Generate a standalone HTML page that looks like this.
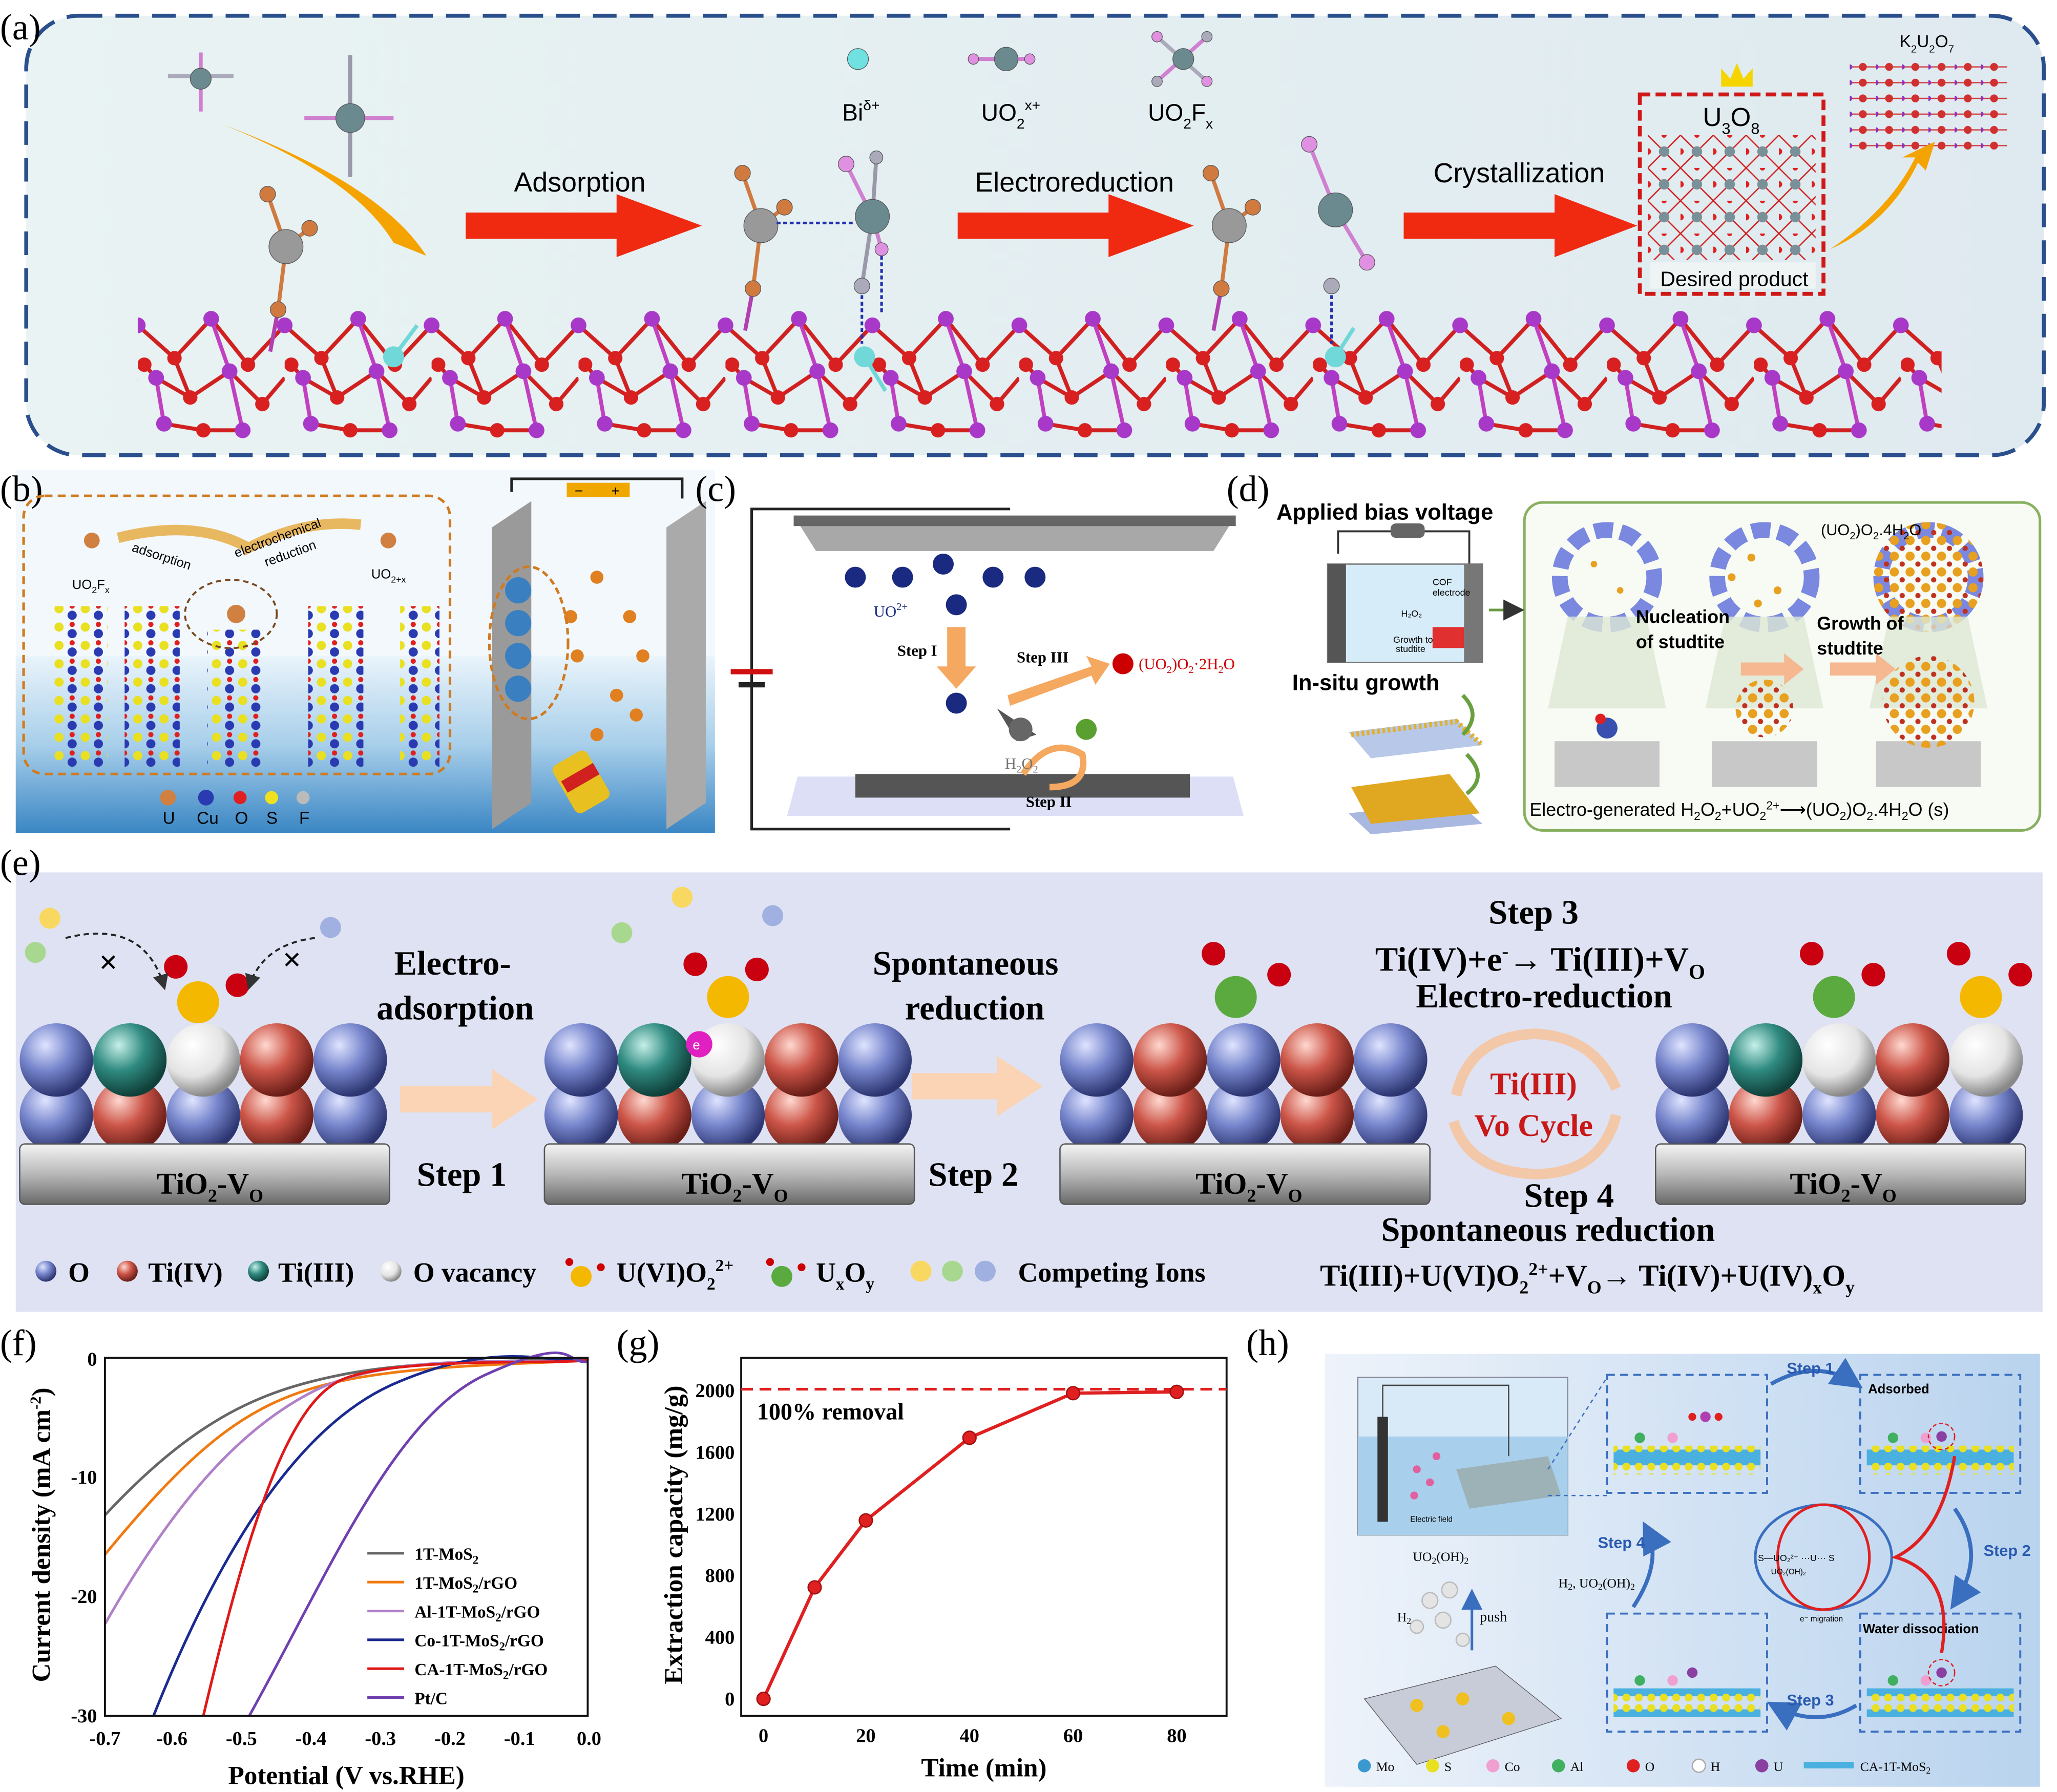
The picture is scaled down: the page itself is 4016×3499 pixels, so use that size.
<!DOCTYPE html>
<html><head><meta charset="utf-8">
<style>
html,body{margin:0;padding:0;background:#fff;}
svg{display:block;}
text{font-family:"Liberation Sans",sans-serif;}
text.s,.s text,.s tspan{font-family:"Liberation Serif",serif;}
</style></head>
<body>
<svg width="4016" height="3499" viewBox="0 0 1568 1366" preserveAspectRatio="none" xmlns="http://www.w3.org/2000/svg">
<defs>
<linearGradient id="bga" x1="0" x2="1"><stop offset="0" stop-color="#e9f3f3"/><stop offset="1" stop-color="#dfeaf0"/></linearGradient>
<linearGradient id="slab" x1="0" y1="0" x2="0" y2="1"><stop offset="0" stop-color="#f4f4f4"/><stop offset="0.5" stop-color="#b8b8b8"/><stop offset="1" stop-color="#6a6a6a"/></linearGradient>
<radialGradient id="gB" cx="0.35" cy="0.3" r="0.7"><stop offset="0" stop-color="#dfe4ff"/><stop offset="0.5" stop-color="#7685cc"/><stop offset="1" stop-color="#2c3570"/></radialGradient>
<radialGradient id="gR" cx="0.35" cy="0.3" r="0.7"><stop offset="0" stop-color="#ffd8d0"/><stop offset="0.5" stop-color="#cc5548"/><stop offset="1" stop-color="#6a1e18"/></radialGradient>
<radialGradient id="gT" cx="0.35" cy="0.3" r="0.7"><stop offset="0" stop-color="#c5f0e8"/><stop offset="0.5" stop-color="#2f8a80"/><stop offset="1" stop-color="#10403a"/></radialGradient>
<radialGradient id="gW" cx="0.35" cy="0.3" r="0.7"><stop offset="0" stop-color="#ffffff"/><stop offset="0.6" stop-color="#e4e4e4"/><stop offset="1" stop-color="#888"/></radialGradient>
<linearGradient id="water" x1="0" y1="0" x2="0" y2="1"><stop offset="0" stop-color="#eaf4fb"/><stop offset="0.5" stop-color="#a8cfea"/><stop offset="1" stop-color="#3a86c4"/></linearGradient>
<linearGradient id="hbg" x1="0" x2="1"><stop offset="0" stop-color="#eef3fa"/><stop offset="1" stop-color="#b9d3ee"/></linearGradient>
<marker id="ah" markerWidth="8" markerHeight="8" refX="6" refY="4" orient="auto"><path d="M0,0 L8,4 L0,8z" fill="#333"/></marker>
<marker id="ahb" markerWidth="8" markerHeight="8" refX="6" refY="4" orient="auto"><path d="M0,0 L8,4 L0,8z" fill="#3a6fc0"/></marker>
<pattern id="chainP" x="105" y="228" width="112" height="110" patternUnits="userSpaceOnUse">
 <g stroke-width="3" fill="none">
 <polyline points="0,20 28,45 56,15 84,50 112,20" stroke="#d02020"/>
 <polyline points="5,50 14,60 40,75 70,55 95,80 112,60" stroke="#d02020"/>
 <polyline points="20,95 50,100 80,100" stroke="#d02020"/>
 <line x1="14" y1="60" x2="20" y2="95" stroke="#c040c0"/>
 <line x1="70" y1="55" x2="80" y2="100" stroke="#c040c0"/>
 <line x1="56" y1="15" x2="70" y2="55" stroke="#c040c0"/>
 <line x1="28" y1="45" x2="40" y2="75" stroke="#d02020"/>
 </g>
 <g fill="#a838c8"><circle cx="0" cy="20" r="6"/><circle cx="112" cy="20" r="6"/><circle cx="56" cy="15" r="6"/><circle cx="14" cy="60" r="6"/><circle cx="70" cy="55" r="6"/><circle cx="20" cy="95" r="6"/><circle cx="80" cy="100" r="6"/></g>
 <g fill="#d82020"><circle cx="28" cy="45" r="5.5"/><circle cx="84" cy="50" r="5.5"/><circle cx="40" cy="75" r="5.5"/><circle cx="95" cy="80" r="5.5"/><circle cx="50" cy="100" r="5.5"/><circle cx="5" cy="50" r="5.5"/></g>
</pattern>
<pattern id="u3P" x="1256" y="103" width="25" height="25" patternUnits="userSpaceOnUse">
 <path d="M0,0 L25,25 M25,0 L0,25" stroke="#d02020" stroke-width="1"/>
 <circle cx="12.5" cy="12.5" r="4" fill="#7a9098"/><circle cx="0" cy="12.5" r="2.5" fill="#e02020"/><circle cx="12.5" cy="0" r="2" fill="#e02020"/>
</pattern>
<pattern id="k2P" x="1410" y="45" width="20" height="12" patternUnits="userSpaceOnUse">
 <line x1="0" y1="6" x2="20" y2="6" stroke="#d04040"/><circle cx="10" cy="6" r="3" fill="#d03030"/><circle cx="0" cy="6" r="2" fill="#9030c0"/>
</pattern>
<pattern id="crP" x="0" y="460" width="20" height="14" patternUnits="userSpaceOnUse">
 <circle cx="5" cy="4" r="3.5" fill="#e8e020"/><circle cx="15" cy="9" r="3.5" fill="#2a3ab0"/><circle cx="15" cy="2" r="2" fill="#e02020"/>
</pattern>
<pattern id="mosP" x="0" y="0" width="9.5" height="22" patternUnits="userSpaceOnUse">
 <rect x="0" y="5" width="9.5" height="12" fill="#4ab0e0"/><circle cx="4.75" cy="4" r="3" fill="#e8e020"/><circle cx="4.75" cy="18" r="3" fill="#e8e020"/>
</pattern>
<pattern id="orP" x="0" y="0" width="12" height="12" patternUnits="userSpaceOnUse">
 <circle cx="4" cy="4" r="3.5" fill="#e8a020"/><circle cx="10" cy="10" r="2" fill="#c03020"/>
</pattern>
</defs>

<!-- (a) -->
<rect x="20" y="12" width="1538" height="335" rx="40" fill="url(#bga)" stroke="#2a4f8c" stroke-width="3" stroke-dasharray="18,10"/>
<text x="0" y="30" font-size="28" class="s">(a)</text>
<rect x="105" y="228" width="1375" height="110" fill="url(#chainP)"/>
<g fill="#70d8d8"><circle cx="300" cy="272" r="8"/><circle cx="659" cy="272" r="8"/><circle cx="1018" cy="272" r="8"/></g>
<g stroke="#70d8d8" stroke-width="3"><line x1="300" y1="272" x2="318" y2="248"/><line x1="659" y1="272" x2="675" y2="298"/><line x1="1018" y1="272" x2="1032" y2="250"/></g>
<path d="M170,95 Q290,140 325,195 L300,185 Q270,135 170,95z" fill="#f5a300"/>
<polygon points="355,162 470,162 470,148 535,172 470,196 470,182 355,182" fill="#f02a10"/>
<polygon points="730,162 845,162 845,148 910,172 845,196 845,182 730,182" fill="#f02a10"/>
<polygon points="1070,162 1185,162 1185,148 1248,172 1185,196 1185,182 1070,182" fill="#f02a10"/>
<text x="442" y="146" font-size="21" text-anchor="middle">Adsorption</text>
<text x="819" y="146" font-size="21" text-anchor="middle">Electroreduction</text>
<text x="1158" y="139" font-size="21" text-anchor="middle">Crystallization</text>
<text x="642" y="92" font-size="18">Bi<tspan font-size="11" dy="-8">δ+</tspan></text>
<text x="748" y="92" font-size="18">UO<tspan font-size="11" dy="6">2</tspan><tspan font-size="11" dy="-14">x+</tspan></text>
<text x="875" y="92" font-size="18">UO<tspan font-size="11" dy="6">2</tspan><tspan dy="-6">F</tspan><tspan font-size="11" dy="6">x</tspan></text>
<text x="1448" y="36" font-size="13">K<tspan font-size="8" dy="4">2</tspan><tspan dy="-4">U</tspan><tspan font-size="8" dy="4">2</tspan><tspan dy="-4">O</tspan><tspan font-size="8" dy="4">7</tspan></text>
<rect x="1256" y="103" width="128" height="95" fill="url(#u3P)"/>
<rect x="1410" y="45" width="120" height="72" fill="url(#k2P)"/>
<rect x="1250" y="72" width="140" height="152" fill="none" stroke="#d01818" stroke-width="3" stroke-dasharray="8,4"/>
<text x="1298" y="96" font-size="20">U<tspan font-size="12" dy="6">3</tspan><tspan dy="-6">O</tspan><tspan font-size="12" dy="6">8</tspan></text>
<rect x="1258" y="200" width="126" height="20" fill="#eef4f4"/>
<text x="1322" y="218" font-size="16" text-anchor="middle">Desired product</text>
<path d="M1312,66 l0,-14 l7,8 l5,-12 l5,12 l7,-8 l0,14z" fill="#f5d400"/>
<path d="M1395,190 Q1440,160 1460,120 L1450,120 L1475,108 L1468,130 L1462,124 Q1440,170 1395,190z" fill="#f5a300"/>
<!-- molecules -->
<g stroke-width="3">
<line x1="218" y1="188" x2="204" y2="148" stroke="#d07a40"/><line x1="218" y1="188" x2="236" y2="174" stroke="#d07a40"/><line x1="218" y1="188" x2="212" y2="236" stroke="#d07a40"/><line x1="212" y1="236" x2="206" y2="268" stroke="#b040b0"/>
<line x1="580" y1="172" x2="566" y2="132" stroke="#d07a40"/><line x1="580" y1="172" x2="598" y2="158" stroke="#d07a40"/><line x1="580" y1="172" x2="574" y2="220" stroke="#d07a40"/><line x1="574" y1="220" x2="568" y2="252" stroke="#b040b0"/>
<line x1="937" y1="172" x2="923" y2="132" stroke="#d07a40"/><line x1="937" y1="172" x2="955" y2="158" stroke="#d07a40"/><line x1="937" y1="172" x2="931" y2="220" stroke="#d07a40"/><line x1="931" y1="220" x2="925" y2="252" stroke="#b040b0"/>
<line x1="665" y1="165" x2="668" y2="120" stroke="#99a"/><line x1="665" y1="165" x2="645" y2="125" stroke="#d080d0"/><line x1="665" y1="165" x2="672" y2="190" stroke="#d080d0"/><line x1="665" y1="165" x2="657" y2="218" stroke="#99a"/>
<line x1="998" y1="110" x2="1018" y2="160" stroke="#d080d0"/><line x1="1018" y1="160" x2="1042" y2="200" stroke="#d080d0"/>
<line x1="742" y1="45" x2="785" y2="45" stroke="#d080d0"/>
<line x1="882" y1="28" x2="920" y2="62" stroke="#aab"/><line x1="920" y1="28" x2="882" y2="62" stroke="#d080d0"/>
<line x1="128" y1="58" x2="178" y2="58" stroke="#aab"/><line x1="153" y1="40" x2="153" y2="85" stroke="#d080d0"/>
<line x1="232" y1="90" x2="300" y2="90" stroke="#d080d0"/><line x1="267" y1="42" x2="267" y2="135" stroke="#99a"/>
</g>
<g stroke="#555" stroke-width="0.5">
<circle cx="204" cy="148" r="6" fill="#d07a40"/><circle cx="236" cy="174" r="6" fill="#d07a40"/><circle cx="212" cy="236" r="6" fill="#d07a40"/><circle cx="218" cy="188" r="13" fill="#999"/>
<circle cx="566" cy="132" r="6" fill="#d07a40"/><circle cx="598" cy="158" r="6" fill="#d07a40"/><circle cx="574" cy="220" r="6" fill="#d07a40"/><circle cx="580" cy="172" r="13" fill="#999"/>
<circle cx="923" cy="132" r="6" fill="#d07a40"/><circle cx="955" cy="158" r="6" fill="#d07a40"/><circle cx="931" cy="220" r="6" fill="#d07a40"/><circle cx="937" cy="172" r="13" fill="#999"/>
<circle cx="668" cy="120" r="5" fill="#aab"/><circle cx="645" cy="125" r="6" fill="#e090e0"/><circle cx="672" cy="190" r="5" fill="#e090e0"/><circle cx="657" cy="218" r="6" fill="#aab"/><circle cx="665" cy="165" r="13" fill="#6a8a90"/>
<circle cx="998" cy="110" r="6" fill="#e090e0"/><circle cx="1042" cy="200" r="6" fill="#e090e0"/><circle cx="1018" cy="160" r="13" fill="#6a8a90"/>
<circle cx="1015" cy="218" r="6" fill="#aab"/>
<circle cx="654" cy="45" r="8" fill="#70e0e0"/>
<circle cx="742" cy="45" r="4" fill="#e090e0"/><circle cx="785" cy="45" r="4" fill="#e090e0"/><circle cx="767" cy="45" r="9" fill="#6a8a90"/>
<circle cx="882" cy="28" r="4" fill="#e090e0"/><circle cx="920" cy="28" r="4" fill="#aab"/><circle cx="882" cy="62" r="4" fill="#aab"/><circle cx="920" cy="62" r="4" fill="#e090e0"/><circle cx="902" cy="45" r="8" fill="#6a8a90"/>
<circle cx="153" cy="60" r="8" fill="#6a8a90"/><circle cx="267" cy="90" r="11" fill="#6a8a90"/>
</g>
<g stroke="#2030b0" stroke-width="2" stroke-dasharray="3,2">
<line x1="592" y1="170" x2="650" y2="170"/><line x1="657" y1="225" x2="657" y2="262"/><line x1="672" y1="195" x2="672" y2="240"/><line x1="1015" y1="225" x2="1015" y2="262"/></g>

<!-- (b) -->
<rect x="12" y="358" width="533" height="277" fill="#f3f8fc"/>
<rect x="12" y="500" width="533" height="135" fill="url(#water)"/>
<text x="0" y="382" font-size="28" class="s">(b)</text>
<rect x="40" y="462" width="42" height="123" fill="url(#crP)"/>
<rect x="95" y="462" width="42" height="123" fill="url(#crP)"/>
<rect x="158" y="480" width="42" height="105" fill="url(#crP)"/>
<rect x="235" y="462" width="42" height="123" fill="url(#crP)"/>
<rect x="305" y="462" width="30" height="123" fill="url(#crP)"/>
<rect x="18" y="378" width="325" height="212" rx="16" fill="none" stroke="#d07a20" stroke-width="2" stroke-dasharray="6,4"/>
<path d="M90,410 Q150,395 190,418" fill="none" stroke="#e8b860" stroke-width="8"/>
<path d="M185,420 Q230,395 275,400" fill="none" stroke="#e8b860" stroke-width="8"/>
<text x="100" y="420" font-size="10" transform="rotate(18 100 420)">adsorption</text>
<text x="180" y="425" font-size="10" transform="rotate(-20 180 425)">electrochemical</text>
<text x="203" y="432" font-size="10" transform="rotate(-20 203 432)">reduction</text>
<circle cx="70" cy="412" r="6" fill="#d08040"/><circle cx="296" cy="412" r="6" fill="#d08040"/><circle cx="180" cy="468" r="7" fill="#d08040"/>
<text x="55" y="449" font-size="10">UO<tspan font-size="7" dy="3">2</tspan><tspan dy="-3">F</tspan><tspan font-size="7" dy="3">x</tspan></text>
<text x="283" y="441" font-size="10">UO<tspan font-size="7" dy="3">2+x</tspan></text>
<ellipse cx="176" cy="468" rx="35" ry="26" fill="none" stroke="#7a4a20" stroke-width="1.5" stroke-dasharray="4,3"/>
<path d="M390,375 V365 H520 V380" fill="none" stroke="#222" stroke-width="2"/>
<rect x="432" y="368" width="48" height="11" fill="#f0a800"/>
<text x="438" y="378" font-size="11">−</text><text x="466" y="378" font-size="11">+</text>
<polygon points="375,402 405,382 405,612 375,632" fill="#9a9a9a"/>
<polygon points="508,402 538,382 538,612 508,632" fill="#aaaaaa"/>
<g fill="#3a80c0"><circle cx="395" cy="450" r="10"/><circle cx="395" cy="475" r="10"/><circle cx="395" cy="500" r="10"/><circle cx="395" cy="525" r="10"/></g>
<g fill="#e08020"><circle cx="455" cy="440" r="5"/><circle cx="480" cy="470" r="5"/><circle cx="440" cy="500" r="5"/><circle cx="470" cy="530" r="5"/><circle cx="455" cy="560" r="5"/><circle cx="490" cy="500" r="5"/><circle cx="435" cy="470" r="5"/><circle cx="485" cy="545" r="5"/></g>
<ellipse cx="403" cy="490" rx="30" ry="58" fill="none" stroke="#d07a20" stroke-width="2" stroke-dasharray="5,3"/>
<rect x="428" y="575" width="30" height="42" rx="5" fill="#e8c020" transform="rotate(-30 443 596)"/>
<rect x="430" y="588" width="28" height="10" fill="#d02020" transform="rotate(-30 443 596)"/>
<g font-size="13"><text x="124" y="628">U</text><text x="150" y="628">Cu</text><text x="179" y="628">O</text><text x="203" y="628">S</text><text x="228" y="628">F</text></g>
<circle cx="128" cy="608" r="6" fill="#d08040"/><circle cx="157" cy="608" r="6" fill="#2a3ab0"/><circle cx="183" cy="608" r="5" fill="#e02020"/><circle cx="207" cy="608" r="5" fill="#f0e020"/><circle cx="231" cy="608" r="5" fill="#bbb"/>

<!-- (c) -->
<text x="530" y="382" font-size="28" class="s">(c)</text>
<path d="M770,388 H573 V632 H770" fill="none" stroke="#222" stroke-width="2"/>
<rect x="557" y="510" width="32" height="4" fill="#d01010"/><rect x="563" y="520" width="20" height="4" fill="#222"/>
<polygon points="605,393 942,393 925,420 622,420" fill="#a8a8a8"/>
<rect x="605" y="393" width="337" height="8" fill="#666"/>
<polygon points="608,592 940,592 948,622 600,622" fill="#dcdff5"/>
<rect x="652" y="590" width="255" height="18" fill="#555"/>
<g fill="#1a2a80"><circle cx="652" cy="440" r="8"/><circle cx="688" cy="440" r="8"/><circle cx="719" cy="430" r="8"/><circle cx="757" cy="440" r="8"/><circle cx="789" cy="440" r="8"/><circle cx="729" cy="461" r="8"/><circle cx="729" cy="536" r="8"/></g>
<text x="666" y="470" font-size="12" fill="#1a2a80" class="s">UO<tspan font-size="8" dy="-5">2+</tspan></text>
<polygon points="722,478 736,478 736,508 744,508 729,525 714,508 722,508" fill="#f5a860"/>
<text x="684" y="500" font-size="12" class="s" font-weight="bold">Step I</text>
<polygon points="768,530 832,508 828,500 846,506 835,522 832,515 770,538" fill="#f5a860"/>
<text x="775" y="505" font-size="12" class="s" font-weight="bold">Step III</text>
<circle cx="856" cy="506" r="8" fill="#c00"/>
<text x="868" y="510" font-size="12" fill="#c00" class="s">(UO<tspan font-size="8" dy="3">2</tspan><tspan dy="-3">)O</tspan><tspan font-size="8" dy="3">2</tspan><tspan dy="-3">·2H</tspan><tspan font-size="8" dy="3">2</tspan><tspan dy="-3">O</tspan></text>
<path d="M760,540 L790,560 L775,565z" fill="#555"/><circle cx="778" cy="556" r="9" fill="#666"/>
<circle cx="828" cy="556" r="8" fill="#5aa030"/>
<path d="M780,590 Q800,560 825,575 Q830,600 800,600" fill="none" stroke="#f5a860" stroke-width="5"/>
<text x="766" y="586" font-size="12" fill="#777" class="s">H<tspan font-size="8" dy="3">2</tspan><tspan dy="-3">O</tspan><tspan font-size="8" dy="3">2</tspan></text>
<text x="782" y="615" font-size="12" class="s" font-weight="bold">Step II</text>

<!-- (d) -->
<text x="935" y="382" font-size="28" class="s">(d)</text>
<text x="973" y="396" font-size="17" font-weight="bold">Applied bias voltage</text>
<rect x="1162" y="383" width="393" height="250" rx="14" fill="#f8fbf4" stroke="#88b060" stroke-width="2"/>
<path d="M1020,422 V405 H1120 V430" fill="none" stroke="#333" stroke-width="1.5"/>
<rect x="1060" y="399" width="26" height="11" rx="4" fill="#666"/>
<rect x="1012" y="430" width="118" height="75" fill="#d6ecf8" stroke="#777"/>
<rect x="1012" y="430" width="14" height="75" fill="#555"/>
<rect x="1116" y="430" width="14" height="75" fill="#777"/>
<text x="1092" y="446" font-size="7">COF</text><text x="1092" y="454" font-size="7">electrode</text>
<text x="1068" y="470" font-size="7">H₂O₂</text><text x="1062" y="490" font-size="7">Growth to</text><text x="1064" y="497" font-size="7">studtite</text>
<rect x="1092" y="478" width="24" height="16" fill="#e03030"/>
<path d="M1135,465 H1158" stroke="#6a9a40" stroke-width="2" marker-end="url(#ah)"/>
<text x="985" y="526" font-size="17" font-weight="bold">In-situ growth</text>
<polygon points="1028,558 1110,548 1130,568 1045,578" fill="#b8c8e8"/>
<path d="M1030,560 l80,-10 l20,18" fill="none" stroke="#e0b030" stroke-width="4" stroke-dasharray="2,2"/>
<polygon points="1028,620 1110,610 1130,628 1045,636" fill="#a8b8e0"/>
<polygon points="1030,600 1105,590 1128,620 1045,628" fill="#e0a820"/>
<path d="M1115,530 Q1130,545 1115,560" fill="none" stroke="#6aa040" stroke-width="3"/>
<path d="M1118,575 Q1135,592 1118,605" fill="none" stroke="#6aa040" stroke-width="3"/>
<g fill="none" stroke="#7a88e0" stroke-width="12" stroke-dasharray="14,6">
<circle cx="1225" cy="440" r="36"/><circle cx="1345" cy="440" r="36"/><circle cx="1470" cy="440" r="36"/></g>
<circle cx="1470" cy="440" r="42" fill="url(#orP)"/>
<g fill="#e8a020"><circle cx="1215" cy="430" r="2.5"/><circle cx="1235" cy="450" r="2.5"/><circle cx="1335" cy="425" r="3"/><circle cx="1355" cy="450" r="3"/><circle cx="1340" cy="460" r="3"/><circle cx="1320" cy="440" r="3"/></g>
<g fill="#dde8d4" opacity="0.8"><polygon points="1195,470 1255,470 1270,540 1180,540"/><polygon points="1315,470 1375,470 1390,540 1300,540"/><polygon points="1440,470 1500,470 1515,540 1425,540"/></g>
<g fill="#c8c8c8"><rect x="1185" y="565" width="80" height="35"/><rect x="1305" y="565" width="80" height="35"/><rect x="1430" y="565" width="80" height="35"/></g>
<circle cx="1225" cy="555" r="8" fill="#3a50b0"/><circle cx="1220" cy="548" r="4" fill="#e02020"/>
<circle cx="1345" cy="540" r="22" fill="url(#orP)"/><circle cx="1470" cy="535" r="35" fill="url(#orP)"/>
<text x="1247" y="475" font-size="14" font-weight="bold">Nucleation</text>
<text x="1247" y="494" font-size="14" font-weight="bold">of studtite</text>
<text x="1385" y="480" font-size="14" font-weight="bold">Growth of</text>
<text x="1385" y="499" font-size="14" font-weight="bold">studtite</text>
<text x="1388" y="408" font-size="12">(UO<tspan font-size="8" dy="3">2</tspan><tspan dy="-3">)O</tspan><tspan font-size="8" dy="3">2</tspan><tspan dy="-3">.4H</tspan><tspan font-size="8" dy="3">2</tspan><tspan dy="-3">O</tspan></text>
<polygon points="1327,505 1360,505 1360,498 1375,510 1360,522 1360,515 1327,515" fill="#f5b890"/>
<polygon points="1395,505 1430,505 1430,498 1445,510 1430,522 1430,515 1395,515" fill="#f5b890"/>
<text x="1166" y="622" font-size="14">Electro-generated H<tspan font-size="9" dy="3">2</tspan><tspan dy="-3">O</tspan><tspan font-size="9" dy="3">2</tspan><tspan dy="-3">+UO</tspan><tspan font-size="9" dy="3">2</tspan><tspan font-size="9" dy="-8">2+</tspan><tspan dy="5">⟶(UO</tspan><tspan font-size="9" dy="3">2</tspan><tspan dy="-3">)O</tspan><tspan font-size="9" dy="3">2</tspan><tspan dy="-3">.4H</tspan><tspan font-size="9" dy="3">2</tspan><tspan dy="-3">O (s)</tspan></text>

<!-- (e) -->
<rect x="12" y="665" width="1545" height="335" fill="#dfe2f2"/>
<text x="0" y="667" font-size="28" class="s">(e)</text>
<!-- bottom rows -->
<g>
<circle cx="43" cy="850" r="28" fill="url(#gB)"/><circle cx="99" cy="850" r="28" fill="url(#gR)"/><circle cx="155" cy="850" r="28" fill="url(#gB)"/><circle cx="211" cy="850" r="28" fill="url(#gR)"/><circle cx="267" cy="850" r="28" fill="url(#gB)"/>
<circle cx="443" cy="850" r="28" fill="url(#gB)"/><circle cx="499" cy="850" r="28" fill="url(#gR)"/><circle cx="555" cy="850" r="28" fill="url(#gB)"/><circle cx="611" cy="850" r="28" fill="url(#gR)"/><circle cx="667" cy="850" r="28" fill="url(#gB)"/>
<circle cx="836" cy="850" r="28" fill="url(#gB)"/><circle cx="892" cy="850" r="28" fill="url(#gR)"/><circle cx="948" cy="850" r="28" fill="url(#gB)"/><circle cx="1004" cy="850" r="28" fill="url(#gR)"/><circle cx="1060" cy="850" r="28" fill="url(#gB)"/>
<circle cx="1290" cy="850" r="28" fill="url(#gB)"/><circle cx="1346" cy="850" r="28" fill="url(#gR)"/><circle cx="1402" cy="850" r="28" fill="url(#gB)"/><circle cx="1458" cy="850" r="28" fill="url(#gR)"/><circle cx="1514" cy="850" r="28" fill="url(#gB)"/>
</g>
<g>
<circle cx="43" cy="808" r="28" fill="url(#gB)"/><circle cx="99" cy="808" r="28" fill="url(#gT)"/><circle cx="155" cy="808" r="28" fill="url(#gW)"/><circle cx="211" cy="808" r="28" fill="url(#gR)"/><circle cx="267" cy="808" r="28" fill="url(#gB)"/>
<circle cx="443" cy="808" r="28" fill="url(#gB)"/><circle cx="499" cy="808" r="28" fill="url(#gT)"/><circle cx="555" cy="808" r="28" fill="url(#gW)"/><circle cx="611" cy="808" r="28" fill="url(#gR)"/><circle cx="667" cy="808" r="28" fill="url(#gB)"/>
<circle cx="836" cy="808" r="28" fill="url(#gB)"/><circle cx="892" cy="808" r="28" fill="url(#gR)"/><circle cx="948" cy="808" r="28" fill="url(#gB)"/><circle cx="1004" cy="808" r="28" fill="url(#gR)"/><circle cx="1060" cy="808" r="28" fill="url(#gB)"/>
<circle cx="1290" cy="808" r="28" fill="url(#gB)"/><circle cx="1346" cy="808" r="28" fill="url(#gT)"/><circle cx="1402" cy="808" r="28" fill="url(#gW)"/><circle cx="1458" cy="808" r="28" fill="url(#gR)"/><circle cx="1514" cy="808" r="28" fill="url(#gW)"/>
</g>
<g fill="url(#slab)" stroke="#555">
<rect x="15" y="872" width="282" height="46" rx="4"/><rect x="415" y="872" width="282" height="46" rx="4"/><rect x="808" y="872" width="282" height="46" rx="4"/><rect x="1262" y="872" width="282" height="46" rx="4"/></g>
<g fill="#c80010">
<circle cx="134" cy="737" r="9"/><circle cx="181" cy="751" r="9"/>
<circle cx="530" cy="735" r="9"/><circle cx="577" cy="739" r="9"/>
<circle cx="925" cy="727" r="9"/><circle cx="975" cy="743" r="9"/>
<circle cx="1381" cy="727" r="9"/><circle cx="1428" cy="743" r="9"/>
<circle cx="1493" cy="727" r="9"/><circle cx="1540" cy="743" r="9"/>
</g>
<circle cx="151" cy="764" r="16" fill="#f5b800"/><circle cx="555" cy="760" r="16" fill="#f5b800"/><circle cx="942" cy="760" r="16" fill="#5aaa40"/><circle cx="1398" cy="760" r="16" fill="#5aaa40"/><circle cx="1510" cy="760" r="16" fill="#f5b800"/>
<circle cx="533" cy="796" r="10" fill="#e020c0"/><text x="528" y="800" font-size="10" fill="#fff">e</text>
<circle cx="38" cy="700" r="8" fill="#f8d860"/><circle cx="27" cy="726" r="8" fill="#a8d890"/><circle cx="252" cy="707" r="8" fill="#a0b0e0"/><circle cx="520" cy="684" r="8" fill="#f8d860"/><circle cx="474" cy="711" r="8" fill="#a8d890"/><circle cx="589" cy="698" r="8" fill="#a0b0e0"/>
<path d="M50,715 Q110,700 125,752" fill="none" stroke="#222" stroke-dasharray="4,3" stroke-width="1.5" marker-end="url(#ah)"/>
<path d="M240,715 Q200,720 190,752" fill="none" stroke="#222" stroke-dasharray="4,3" stroke-width="1.5" marker-end="url(#ah)"/>
<text x="75" y="740" font-size="18">✕</text><text x="215" y="738" font-size="18">✕</text>
<polygon points="305,828 375,828 375,815 410,838 375,861 375,848 305,848" fill="#fad4b4"/>
<polygon points="695,818 760,818 760,805 795,828 760,851 760,838 695,838" fill="#fad4b4"/>
<path d="M1110,835 Q1120,790 1170,788 Q1215,790 1232,830" fill="none" stroke="#f3c8a8" stroke-width="8"/>
<path d="M1232,850 Q1220,895 1170,895 Q1120,893 1108,855" fill="none" stroke="#f3c8a8" stroke-width="8"/>
<g class="s" font-weight="bold" font-size="26" text-anchor="middle">
<text x="345" y="743">Electro-</text><text x="347" y="777">adsorption</text>
<text x="352" y="904">Step 1</text>
<text x="736" y="743">Spontaneous</text><text x="743" y="777">reduction</text>
<text x="742" y="904">Step 2</text>
<text x="1169" y="704">Step 3</text>
<text x="1174" y="740">Ti(IV)+e<tspan font-size="15" dy="-10">-</tspan><tspan dy="10">→ Ti(III)+V</tspan><tspan font-size="16" dy="6">O</tspan></text>
<text x="1177" y="768">Electro-reduction</text>
<text x="1196" y="920">Step 4</text>
<text x="1180" y="946">Spontaneous reduction</text>
<text x="1210" y="980" font-size="23">Ti(III)+U(VI)O<tspan font-size="14" dy="6">2</tspan><tspan font-size="14" dy="-14">2+</tspan><tspan dy="8">+V</tspan><tspan font-size="14" dy="6">O</tspan><tspan dy="-6">→ Ti(IV)+U(IV)</tspan><tspan font-size="14" dy="6">x</tspan><tspan dy="-6">O</tspan><tspan font-size="14" dy="6">y</tspan></text>
<text x="1169" y="834" fill="#c81818" font-size="24">Ti(III)</text>
<text x="1169" y="866" fill="#c81818" font-size="24">Vo Cycle</text>
<text x="160" y="910" font-size="23">TiO<tspan font-size="14" dy="6">2</tspan><tspan dy="-6">-V</tspan><tspan font-size="14" dy="6">O</tspan></text>
<text x="560" y="910" font-size="23">TiO<tspan font-size="14" dy="6">2</tspan><tspan dy="-6">-V</tspan><tspan font-size="14" dy="6">O</tspan></text>
<text x="952" y="910" font-size="23">TiO<tspan font-size="14" dy="6">2</tspan><tspan dy="-6">-V</tspan><tspan font-size="14" dy="6">O</tspan></text>
<text x="1405" y="910" font-size="23">TiO<tspan font-size="14" dy="6">2</tspan><tspan dy="-6">-V</tspan><tspan font-size="14" dy="6">O</tspan></text>
</g>
<g class="s" font-weight="bold" font-size="21">
<text x="52" y="977">O</text><text x="113" y="977">Ti(IV)</text><text x="212" y="977">Ti(III)</text><text x="315" y="977">O vacancy</text>
<text x="470" y="977">U(VI)O<tspan font-size="13" dy="6">2</tspan><tspan font-size="13" dy="-14">2+</tspan></text>
<text x="622" y="977">U<tspan font-size="13" dy="6">x</tspan><tspan dy="-6">O</tspan><tspan font-size="13" dy="6">y</tspan></text>
<text x="776" y="977">Competing Ions</text>
</g>
<circle cx="35" cy="969" r="8" fill="url(#gB)"/><circle cx="97" cy="969" r="8" fill="url(#gR)"/><circle cx="197" cy="969" r="8" fill="url(#gT)"/><circle cx="298" cy="969" r="8" fill="url(#gW)"/>
<circle cx="443" cy="973" r="8" fill="#f5b800"/><circle cx="434" cy="962" r="3" fill="#c00"/><circle cx="458" cy="966" r="3" fill="#c00"/>
<circle cx="596" cy="973" r="8" fill="#5aaa40"/><circle cx="587" cy="962" r="3" fill="#c00"/><circle cx="611" cy="966" r="3" fill="#c00"/>
<circle cx="702" cy="969" r="8" fill="#f8d860"/><circle cx="726" cy="969" r="8" fill="#a8d890"/><circle cx="751" cy="969" r="8" fill="#a0b0e0"/>

<!-- (f) -->
<text x="0" y="1033" font-size="28" class="s">(f)</text>
<g fill="none" stroke-width="2">
<path d="M80,1155 C150,1080 200,1060 260,1048 S400,1038 448,1036" stroke="#666"/>
<path d="M80,1185 C150,1100 190,1070 250,1055 S400,1040 448,1037" stroke="#f07a10"/>
<path d="M80,1238 C130,1150 180,1090 240,1060 S400,1040 448,1037" stroke="#b080c8"/>
<path d="M117,1308 C160,1200 220,1090 300,1055 S420,1040 448,1037" stroke="#1a2a90"/>
<path d="M155,1308 C190,1160 220,1070 260,1052 S420,1040 448,1037" stroke="#e01818"/>
<path d="M190,1308 C250,1200 300,1080 370,1048 S430,1040 448,1038" stroke="#7040b0"/>
</g>
<rect x="80" y="1035" width="368" height="273" fill="none" stroke="#111" stroke-width="1.5"/>
<g class="s" font-size="15" font-weight="bold" text-anchor="middle">
<text x="80" y="1330">-0.7</text><text x="131" y="1330">-0.6</text><text x="184" y="1330">-0.5</text><text x="237" y="1330">-0.4</text><text x="290" y="1330">-0.3</text><text x="343" y="1330">-0.2</text><text x="396" y="1330">-0.1</text><text x="449" y="1330">0.0</text>
<text x="264" y="1360" font-size="20">Potential (V vs.RHE)</text>
</g>
<g class="s" font-size="15" font-weight="bold" text-anchor="end">
<text x="74" y="1041">0</text><text x="74" y="1131">-10</text><text x="74" y="1222">-20</text><text x="74" y="1313">-30</text>
</g>
<text x="38" y="1170" font-size="20" font-weight="bold" class="s" text-anchor="middle" transform="rotate(-90 38 1170)">Current density (mA cm<tspan font-size="12" dy="-7">-2</tspan><tspan dy="7">)</tspan></text>
<g class="s" font-size="13" font-weight="bold">
<line x1="280" y1="1184" x2="308" y2="1184" stroke="#666" stroke-width="2"/><text x="316" y="1189">1T-MoS<tspan font-size="9" dy="3">2</tspan></text>
<line x1="280" y1="1206" x2="308" y2="1206" stroke="#f07a10" stroke-width="2"/><text x="316" y="1211">1T-MoS<tspan font-size="9" dy="3">2</tspan><tspan dy="-3">/rGO</tspan></text>
<line x1="280" y1="1228" x2="308" y2="1228" stroke="#b080c8" stroke-width="2"/><text x="316" y="1233">Al-1T-MoS<tspan font-size="9" dy="3">2</tspan><tspan dy="-3">/rGO</tspan></text>
<line x1="280" y1="1250" x2="308" y2="1250" stroke="#1a2a90" stroke-width="2"/><text x="316" y="1255">Co-1T-MoS<tspan font-size="9" dy="3">2</tspan><tspan dy="-3">/rGO</tspan></text>
<line x1="280" y1="1272" x2="308" y2="1272" stroke="#e01818" stroke-width="2"/><text x="316" y="1277">CA-1T-MoS<tspan font-size="9" dy="3">2</tspan><tspan dy="-3">/rGO</tspan></text>
<line x1="280" y1="1294" x2="308" y2="1294" stroke="#7040b0" stroke-width="2"/><text x="316" y="1299">Pt/C</text>
</g>

<!-- (g) -->
<text x="470" y="1033" font-size="28" class="s">(g)</text>
<rect x="565" y="1035" width="370" height="273" fill="none" stroke="#111" stroke-width="1.5"/>
<line x1="565" y1="1059" x2="935" y2="1059" stroke="#e02020" stroke-width="2" stroke-dasharray="9,5"/>
<text x="577" y="1082" font-size="18" font-weight="bold" class="s">100% removal</text>
<polyline points="582,1295 621,1210 660,1159 739,1096 818,1062 897,1061" fill="none" stroke="#e02020" stroke-width="2.5"/>
<g fill="#e02020" stroke="#a01010"><circle cx="582" cy="1295" r="5"/><circle cx="621" cy="1210" r="5"/><circle cx="660" cy="1159" r="5"/><circle cx="739" cy="1096" r="5"/><circle cx="818" cy="1062" r="5"/><circle cx="897" cy="1061" r="5"/></g>
<g class="s" font-size="15" font-weight="bold" text-anchor="end">
<text x="560" y="1300">0</text><text x="560" y="1253">400</text><text x="560" y="1206">800</text><text x="560" y="1159">1200</text><text x="560" y="1112">1600</text><text x="560" y="1065">2000</text>
</g>
<g class="s" font-size="15" font-weight="bold" text-anchor="middle">
<text x="582" y="1328">0</text><text x="660" y="1328">20</text><text x="739" y="1328">40</text><text x="818" y="1328">60</text><text x="897" y="1328">80</text>
<text x="750" y="1354" font-size="20">Time (min)</text>
</g>
<text x="520" y="1170" font-size="20" font-weight="bold" class="s" text-anchor="middle" transform="rotate(-90 520 1170)">Extraction capacity (mg/g)</text>

<!-- (h) -->
<text x="950" y="1033" font-size="28" class="s">(h)</text>
<rect x="1010" y="1032" width="545" height="330" fill="url(#hbg)"/>
<rect x="1035" y="1050" width="160" height="120" fill="#d8eaf8" stroke="#889"/>
<rect x="1035" y="1095" width="160" height="75" fill="#a8d0ec"/>
<rect x="1050" y="1080" width="8" height="80" fill="#333"/>
<path d="M1054,1080 V1056 H1150 V1110" fill="none" stroke="#444"/>
<polygon points="1110,1120 1180,1110 1190,1140 1120,1150" fill="#9aa" opacity="0.8"/>
<g fill="#e060a0"><circle cx="1080" cy="1120" r="3"/><circle cx="1090" cy="1130" r="3"/><circle cx="1078" cy="1140" r="3"/><circle cx="1095" cy="1110" r="3"/></g>
<text x="1075" y="1160" font-size="6">Electric field</text>
<path d="M1180,1120 L1225,1050 M1180,1140 L1225,1140" stroke="#3a6fc0" stroke-dasharray="3,3"/>
<rect x="1230" y="1102" width="112" height="22" fill="url(#mosP)"/>
<rect x="1423" y="1102" width="112" height="22" fill="url(#mosP)"/>
<rect x="1230" y="1287" width="112" height="22" fill="url(#mosP)"/>
<rect x="1423" y="1287" width="112" height="22" fill="url(#mosP)"/>
<g fill="#40b060"><circle cx="1250" cy="1096" r="4"/><circle cx="1443" cy="1096" r="4"/><circle cx="1250" cy="1281" r="4"/><circle cx="1443" cy="1281" r="4"/></g>
<g fill="#f0a0d0"><circle cx="1275" cy="1096" r="4"/><circle cx="1468" cy="1096" r="4"/><circle cx="1275" cy="1281" r="4"/><circle cx="1468" cy="1281" r="4"/></g>
<g fill="none" stroke="#3a6fc0" stroke-width="1.5" stroke-dasharray="6,4">
<rect x="1225" y="1048" width="122" height="90"/><rect x="1418" y="1048" width="122" height="90"/>
<rect x="1225" y="1230" width="122" height="90"/><rect x="1418" y="1230" width="122" height="90"/></g>
<circle cx="1300" cy="1080" r="4" fill="#b040b0"/><circle cx="1290" cy="1080" r="3" fill="#e02020"/><circle cx="1310" cy="1080" r="3" fill="#e02020"/>
<circle cx="1480" cy="1095" r="10" fill="none" stroke="#e02020" stroke-dasharray="3,2"/><circle cx="1480" cy="1095" r="4" fill="#8a40a0"/>
<circle cx="1480" cy="1275" r="10" fill="none" stroke="#e02020" stroke-dasharray="3,2"/><circle cx="1480" cy="1275" r="4" fill="#8a40a0"/>
<circle cx="1290" cy="1275" r="4" fill="#8a40a0"/>
<path d="M1350,1055 Q1385,1035 1415,1055" fill="none" stroke="#3a6fc0" stroke-width="3" marker-end="url(#ahb)"/>
<text x="1362" y="1047" font-size="12" font-weight="bold" fill="#2a5ab0">Step 1</text>
<text x="1424" y="1062" font-size="10" font-weight="bold">Adsorbed</text>
<path d="M1490,1150 Q1515,1185 1490,1222" fill="none" stroke="#3a6fc0" stroke-width="3" marker-end="url(#ahb)"/>
<text x="1512" y="1186" font-size="12" font-weight="bold" fill="#2a5ab0">Step 2</text>
<text x="1420" y="1245" font-size="10" font-weight="bold">Water dissociation</text>
<path d="M1415,1300 Q1385,1318 1352,1300" fill="none" stroke="#3a6fc0" stroke-width="3" marker-end="url(#ahb)"/>
<text x="1362" y="1300" font-size="12" font-weight="bold" fill="#2a5ab0">Step 3</text>
<path d="M1245,1225 Q1268,1190 1255,1165" fill="none" stroke="#3a6fc0" stroke-width="3" marker-end="url(#ahb)"/>
<text x="1218" y="1180" font-size="12" font-weight="bold" fill="#2a5ab0">Step 4</text>
<text x="1188" y="1210" font-size="10" class="s">H<tspan font-size="7" dy="2">2</tspan><tspan dy="-2">, UO</tspan><tspan font-size="7" dy="2">2</tspan><tspan dy="-2">(OH)</tspan><tspan font-size="7" dy="2">2</tspan></text>
<ellipse cx="1390" cy="1187" rx="52" ry="40" fill="none" stroke="#3a6fc0" stroke-width="2"/>
<ellipse cx="1390" cy="1187" rx="35" ry="40" fill="none" stroke="#e02020" stroke-width="2"/>
<path d="M1490,1110 Q1480,1170 1445,1187 Q1490,1200 1480,1260" fill="none" stroke="#e02020" stroke-width="2.5"/>
<text x="1340" y="1190" font-size="7">S—UO₂²⁺ ···U··· S</text>
<text x="1350" y="1200" font-size="6">UO₂(OH)₂</text>
<text x="1372" y="1236" font-size="6">e⁻ migration</text>
<polygon points="1040,1295 1140,1270 1190,1310 1080,1345" fill="#c8ccd8" stroke="#555" stroke-width="0.5"/>
<g fill="#f0c020"><circle cx="1080" cy="1300" r="5"/><circle cx="1115" cy="1295" r="5"/><circle cx="1150" cy="1310" r="5"/><circle cx="1100" cy="1320" r="5"/></g>
<g fill="#e4e4e4" stroke="#bbb"><circle cx="1090" cy="1220" r="6"/><circle cx="1105" cy="1212" r="6"/><circle cx="1100" cy="1235" r="6"/><circle cx="1080" cy="1240" r="5"/><circle cx="1115" cy="1250" r="5"/></g>
<text x="1077" y="1190" font-size="10" class="s">UO<tspan font-size="7" dy="2">2</tspan><tspan dy="-2">(OH)</tspan><tspan font-size="7" dy="2">2</tspan></text>
<text x="1065" y="1236" font-size="10" class="s">H<tspan font-size="7" dy="2">2</tspan></text>
<path d="M1122,1258 V1215" stroke="#3a6fc0" stroke-width="2" marker-end="url(#ahb)"/>
<text x="1128" y="1236" font-size="11" class="s">push</text>
<g font-size="10" class="s">
<circle cx="1040" cy="1346" r="5" fill="#3a9ad0"/><text x="1049" y="1350">Mo</text>
<circle cx="1092" cy="1346" r="5" fill="#e8e020"/><text x="1101" y="1350">S</text>
<circle cx="1138" cy="1346" r="5" fill="#f0a0d0"/><text x="1147" y="1350">Co</text>
<circle cx="1188" cy="1346" r="5" fill="#40b060"/><text x="1197" y="1350">Al</text>
<circle cx="1245" cy="1346" r="5" fill="#e02020"/><text x="1254" y="1350">O</text>
<circle cx="1295" cy="1346" r="5" fill="#fff" stroke="#aaa"/><text x="1304" y="1350">H</text>
<circle cx="1343" cy="1346" r="5" fill="#8a40a0"/><text x="1352" y="1350">U</text>
<rect x="1375" y="1343" width="38" height="5" fill="#4ab0e0"/><text x="1418" y="1350">CA-1T-MoS<tspan font-size="7" dy="2">2</tspan></text>
</g>
</svg>
</body></html>
